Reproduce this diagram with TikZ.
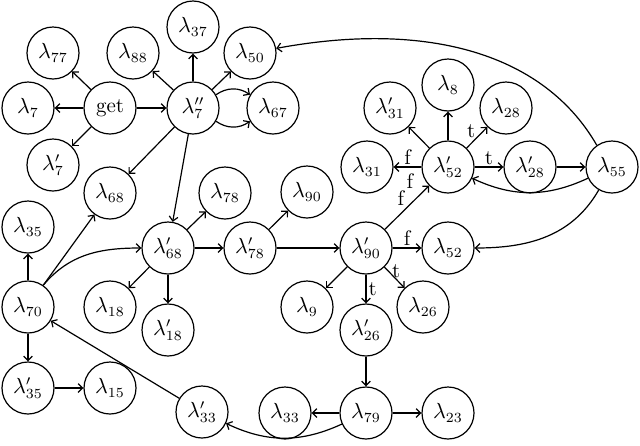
\documentclass[tikz,border=0pt]{standalone}
\usetikzlibrary{arrows.meta}
\begin{document}
\begin{tikzpicture}[x=0.5pt,y=-0.5pt,
  st/.style={circle,draw,line width=0.6pt,minimum size=26pt,inner sep=0pt,font=\fontsize{10.5}{12}\selectfont},
  ed/.style={->,line width=0.6pt,>={Straight Barb[length=2.2pt,width=4.4pt]}},
  lb/.style={font=\fontsize{10.5}{12}\selectfont,inner sep=1pt}]
\useasboundingbox (0,0) rectangle (640,445);
\node[st] (l77) at (53,53) {$\lambda_{77}$};
\node[st] (l7) at (28,108) {$\lambda_{7}$};
\node[st] (get) at (110,108) {get};
\node[st] (l7p) at (53,165) {$\lambda'_{7}$};
\node[st] (l88) at (133,53) {$\lambda_{88}$};
\node[st] (l37) at (193,27) {$\lambda_{37}$};
\node[st] (l7pp) at (193,108) {$\lambda''_{7}$};
\node[st] (l50) at (250,53) {$\lambda_{50}$};
\node[st] (l67) at (273,108) {$\lambda_{67}$};
\node[st] (l68) at (110,193) {$\lambda_{68}$};
\node[st] (l78) at (225,193) {$\lambda_{78}$};
\node[st] (l90) at (307,192) {$\lambda_{90}$};
\node[st] (l35) at (28,227) {$\lambda_{35}$};
\node[st] (l70) at (28,307) {$\lambda_{70}$};
\node[st] (l35p) at (28,388) {$\lambda'_{35}$};
\node[st] (l15) at (110,388) {$\lambda_{15}$};
\node[st] (l68p) at (168,248) {$\lambda'_{68}$};
\node[st] (l78p) at (250,248) {$\lambda'_{78}$};
\node[st] (l18) at (110,307) {$\lambda_{18}$};
\node[st] (l18p) at (168,330) {$\lambda'_{18}$};
\node[st] (l33p) at (202,412) {$\lambda'_{33}$};
\node[st] (l33) at (285,413) {$\lambda_{33}$};
\node[st] (l9) at (307,307) {$\lambda_{9}$};
\node[st] (l90p) at (366,248) {$\lambda'_{90}$};
\node[st] (l52) at (448,248) {$\lambda_{52}$};
\node[st] (l26) at (423,307) {$\lambda_{26}$};
\node[st] (l26p) at (366,330) {$\lambda'_{26}$};
\node[st] (l79) at (366,413) {$\lambda_{79}$};
\node[st] (l23) at (448,413) {$\lambda_{23}$};
\node[st] (l8) at (448,85) {$\lambda_{8}$};
\node[st] (l31p) at (390,108) {$\lambda'_{31}$};
\node[st] (l28) at (506,108) {$\lambda_{28}$};
\node[st] (l31) at (367,167) {$\lambda_{31}$};
\node[st] (l52p) at (448,167) {$\lambda'_{52}$};
\node[st] (l28p) at (530,167) {$\lambda'_{28}$};
\node[st] (l55) at (612,167) {$\lambda_{55}$};
% get
\draw[ed] (get) -- (l77);
\draw[ed] (get) -- (l7);
\draw[ed] (get) -- (l7p);
\draw[ed] (get) -- (l7pp);
% l7''
\draw[ed] (l7pp) -- (l88);
\draw[ed] (l7pp) -- (l37);
\draw[ed] (l7pp) -- (l50);
\draw[ed] (l7pp.30) to[bend left=35] (l67.150);
\draw[ed] (l7pp.-30) to[bend right=35] (l67.-150);
\draw[ed] (l7pp) -- (l68);
\draw[ed] (l7pp) -- (l68p);
% l70
\draw[ed] (l70) -- (l35);
\draw[ed] (l70) -- (l35p);
\draw[ed] (l70.55) -- (l68);
\draw[ed] (l70.55) to[out=50,in=180] (l68p);
\draw[ed] (l35p) -- (l15);
% l68'
\draw[ed] (l68p) -- (l78);
\draw[ed] (l68p) -- (l78p);
\draw[ed] (l68p) -- (l18);
\draw[ed] (l68p) -- (l18p);
% l78'
\draw[ed] (l78p) -- (l90);
\draw[ed] (l78p) -- (l90p);
% l90'
\draw[ed] (l90p) -- node[lb,above] {f} (l52);
\draw[ed] (l90p) -- node[lb,pos=0.45,above right=-2pt] {t} (l26);
\draw[ed] (l90p) -- node[lb,right] {t} (l26p);
\draw[ed] (l90p) -- (l9);
\draw[ed] (l90p) -- node[lb,pos=0.72,anchor=east,xshift=-5pt] {f} node[lb,pos=0.97,anchor=east,xshift=-6pt,yshift=3pt] {f} (l52p);
% l52'
\draw[ed] (l52p) -- node[lb,above] {f} (l31);
\draw[ed] (l52p) -- (l31p);
\draw[ed] (l52p) -- (l8);
\draw[ed] (l52p) -- node[lb,pos=0.45,above left=-1pt] {t} (l28);
\draw[ed] (l52p) -- node[lb,above] {t} (l28p);
\draw[ed] (l28p) -- (l55);
% l55
\draw[ed] (l55) to[bend left=25] (l52p);
\draw[ed] (l55.125) .. controls (545,55) and (430,20) .. (l50.10);
\draw[ed] (l55) to[out=-120,in=0] (l52);
% lower
\draw[ed] (l26p) -- (l79);
\draw[ed] (l79) -- (l33);
\draw[ed] (l79) -- (l23);
\draw[ed] (l79) to[bend left=25] (l33p);
\draw[ed] (l33p) -- (l70);
\end{tikzpicture}
\end{document}
